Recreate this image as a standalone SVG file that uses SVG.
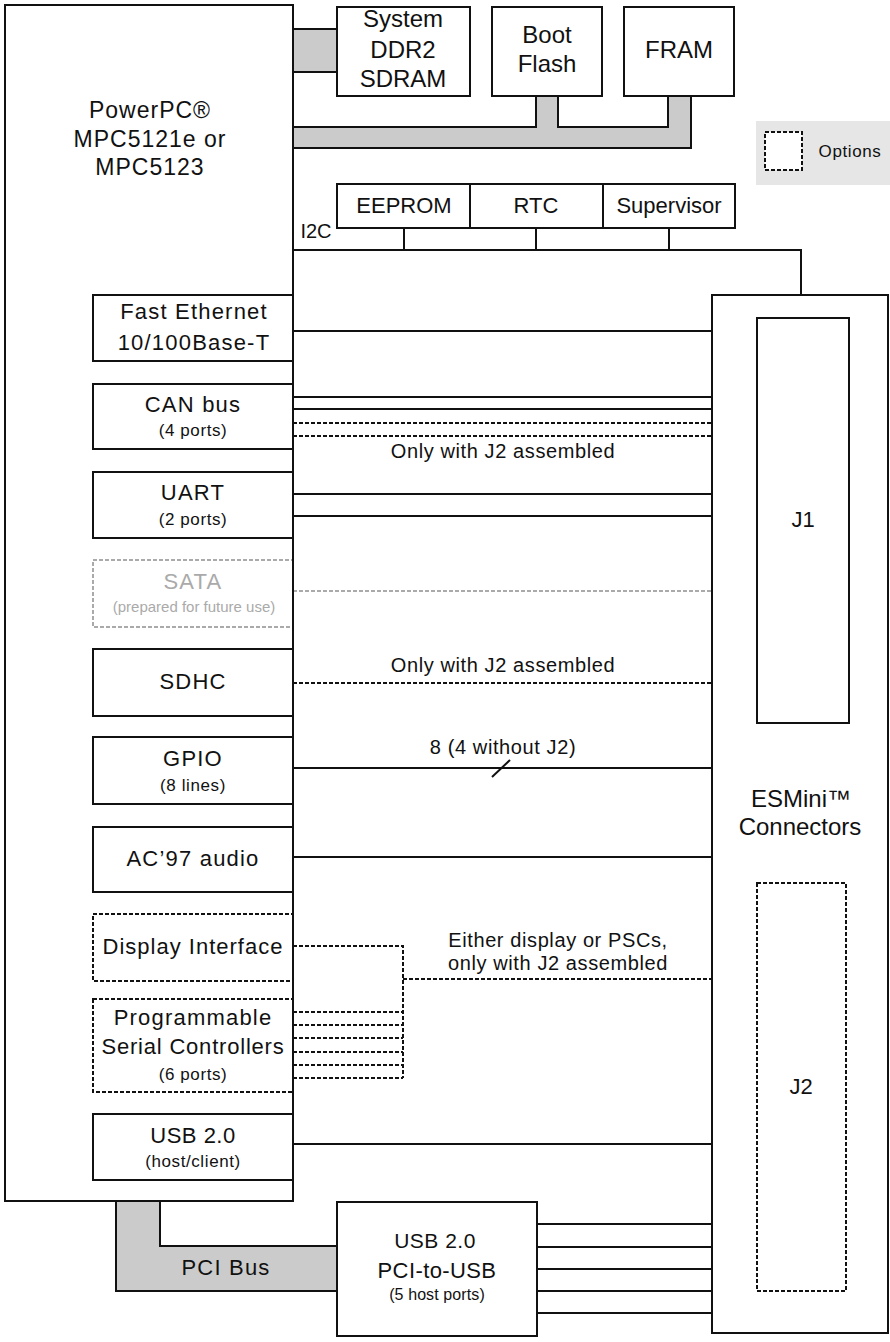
<svg xmlns="http://www.w3.org/2000/svg" width="890" height="1342" viewBox="0 0 890 1342">
<style>
text{font-family:"Liberation Sans",Arial,sans-serif;fill:#111;text-anchor:middle}
.box{fill:#fff;stroke:#111;stroke-width:2}
.dbox{fill:#fff;stroke:#111;stroke-width:2;stroke-dasharray:4 2}
.gbox{fill:#fff;stroke:#aaa;stroke-width:2;stroke-dasharray:4 2}
.bus{fill:#cbcbcb;stroke:#111;stroke-width:2}
.ln{fill:none;stroke:#111;stroke-width:2}
.dl{fill:none;stroke:#111;stroke-width:2;stroke-dasharray:4 2}
.gl{fill:none;stroke:#aaa;stroke-width:2;stroke-dasharray:4 2}
.big{font-size:24px}
.cpu{font-size:23px;letter-spacing:1px}
.m{font-size:22px;letter-spacing:1.2px}
.s{font-size:17px;letter-spacing:0.6px}
.n{font-size:20px;letter-spacing:0.6px}
.g{fill:#aaa}
</style>
<g id="buses">
<path class="bus" d="M293,29 H337 V72 H293 Z"/>
<path class="bus" d="M293,127 H536 V96 H558 V127 H668 V96 H691 V148 H293 Z"/>
<path class="bus" d="M116,1201 H160 V1246 H337 V1291 H116 Z"/>
<text x="226" y="1275" style="font-size:22px;letter-spacing:1.2px">PCI Bus</text>
</g>
<g id="cpu">
<rect class="box" x="5" y="5" width="288" height="1196"/>
<text class="cpu" x="150" y="118">PowerPC®</text>
<text class="cpu" x="150" y="147">MPC5121e or</text>
<text class="cpu" x="150" y="175">MPC5123</text>
</g>
<g id="ddr2">
<rect class="box" x="337" y="7" width="133" height="89"/>
<text class="big" x="403" y="27">System</text>
<text class="big" x="403" y="58">DDR2</text>
<text class="big" x="403" y="87">SDRAM</text>
</g>
<g id="bootflash">
<rect class="box" x="492" y="7" width="110" height="89"/>
<text class="big" x="547" y="43">Boot</text>
<text class="big" x="547" y="72">Flash</text>
</g>
<g id="fram">
<rect class="box" x="624" y="7" width="110" height="89"/>
<text class="big" x="679" y="58">FRAM</text>
</g>
<g id="legend">
<rect x="756" y="121" width="134" height="64" fill="#e6e6e6"/>
<rect class="dbox" x="765" y="132" width="37" height="38"/>
<text x="850" y="157" style="font-size:17px;letter-spacing:0.6px">Options</text>
</g>
<g id="eeprom">
<rect class="box" x="337" y="184" width="133" height="44"/>
<text x="404" y="213" style="font-size:22px">EEPROM</text>
</g>
<g id="rtc">
<rect class="box" x="470" y="184" width="133" height="44"/>
<text x="536" y="213" style="font-size:22px">RTC</text>
</g>
<g id="supervisor">
<rect class="box" x="603" y="184" width="132" height="44"/>
<text x="669" y="213" style="font-size:22px">Supervisor</text>
</g>
<g id="esmini">
<rect class="box" x="712" y="295" width="176" height="1038"/>
<text class="big" x="801" y="807">ESMini™</text>
<text class="big" x="800" y="835">Connectors</text>
</g>
<g id="j1">
<rect class="box" x="757" y="318" width="92" height="405"/>
<text x="803" y="527" style="font-size:22px">J1</text>
</g>
<g id="j2">
<rect class="dbox" x="757" y="883" width="89" height="408"/>
<text x="801" y="1094" style="font-size:22px">J2</text>
</g>
<g id="connectors">
<path class="ln" d="M293,250 H801 V295 M404,228 V250 M536,228 V250 M669,228 V250"/>
<text x="316" y="238" style="font-size:20px;text-anchor:middle">I2C</text>
<path class="ln" d="M293,331 H712 M293,397 H712 M293,409 H712 M293,494 H712 M293,516 H712 M293,768 H712 M293,857 H712 M293,1144 H712"/>
<path class="dl" d="M293,423 H712 M293,436 H712 M293,683 H712"/>
<path class="gl" d="M293,591 H712"/>
<path class="ln" d="M492,777 L510,760"/>
<path class="dl" d="M293,946 H403 V1078 M403,979 H712 M293,1012 H403 M293,1025 H403 M293,1038 H403 M293,1052 H403 M293,1065 H403 M293,1078 H403"/>
<path class="ln" d="M537,1224 H712 M537,1247 H712 M537,1269 H712 M537,1291 H712 M537,1313 H712"/>
<text class="n" x="503" y="458">Only with J2 assembled</text>
<text class="n" x="503" y="672">Only with J2 assembled</text>
<text class="n" x="503" y="754">8 (4 without J2)</text>
<text class="n" x="558" y="947">Either display or PSCs,</text>
<text class="n" x="558" y="970">only with J2 assembled</text>
</g>
<g id="ethernet">
<rect class="box" x="93" y="295" width="200" height="66"/>
<text class="m" x="194" y="319">Fast Ethernet</text>
<text class="m" x="194" y="350">10/100Base-T</text>
</g>
<g id="can">
<rect class="box" x="93" y="384" width="200" height="65"/>
<text class="m" x="193" y="412">CAN bus</text>
<text class="s" x="193" y="436">(4 ports)</text>
</g>
<g id="uart">
<rect class="box" x="93" y="472" width="200" height="66"/>
<text class="m" x="193" y="500">UART</text>
<text class="s" x="193" y="525">(2 ports)</text>
</g>
<g id="sata">
<rect class="gbox" x="93" y="560" width="200" height="67"/>
<text class="m g" x="193" y="589">SATA</text>
<text class="g" x="194" y="612" style="font-size:15px">(prepared for future use)</text>
</g>
<g id="sdhc">
<rect class="box" x="93" y="649" width="200" height="67"/>
<text class="m" x="193" y="689">SDHC</text>
</g>
<g id="gpio">
<rect class="box" x="93" y="737" width="200" height="67"/>
<text class="m" x="193" y="766">GPIO</text>
<text class="s" x="193" y="791">(8 lines)</text>
</g>
<g id="ac97">
<rect class="box" x="93" y="827" width="200" height="65"/>
<text class="m" x="193" y="866">AC’97 audio</text>
</g>
<g id="display">
<rect class="dbox" x="93" y="914" width="200" height="67"/>
<text class="m" x="193" y="954" style="letter-spacing:1px">Display Interface</text>
</g>
<g id="psc">
<rect class="dbox" x="93" y="999" width="200" height="93"/>
<text class="m" x="193" y="1025">Programmable</text>
<text class="m" x="193" y="1054" style="letter-spacing:0.8px">Serial Controllers</text>
<text class="s" x="193" y="1080">(6 ports)</text>
</g>
<path class="ln" d="M293,5 V1201"/>
<g id="usb">
<rect class="box" x="93" y="1114" width="200" height="66"/>
<text class="m" x="193" y="1143" style="letter-spacing:0.5px">USB 2.0</text>
<text class="s" x="193" y="1167">(host/client)</text>
</g>
<g id="pcitousb">
<rect class="box" x="337" y="1202" width="200" height="134"/>
<text x="435" y="1248" style="font-size:21px;letter-spacing:0.5px">USB 2.0</text>
<text x="437" y="1278" style="font-size:22px;letter-spacing:0.4px">PCI-to-USB</text>
<text x="437" y="1300" style="font-size:16px;letter-spacing:0.1px">(5 host ports)</text>
</g>
</svg>
